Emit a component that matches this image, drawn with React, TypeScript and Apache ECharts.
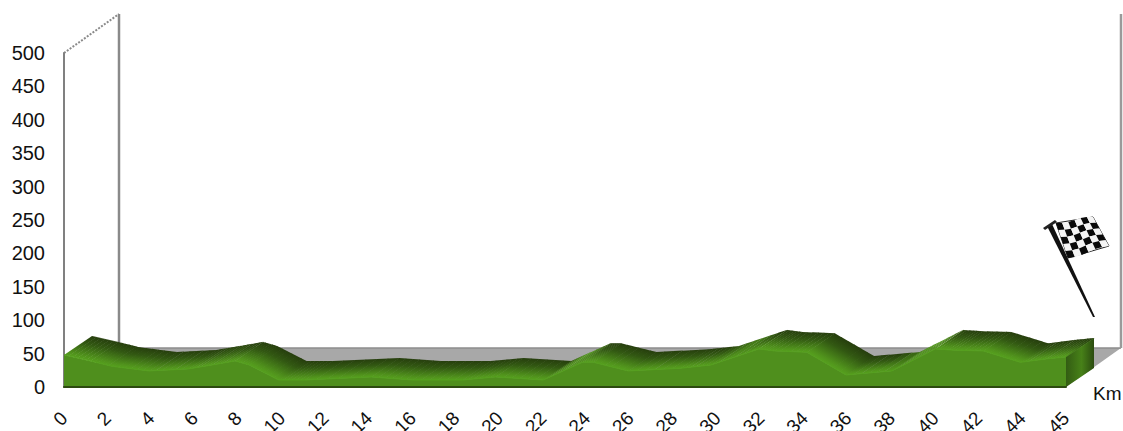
import React, { useEffect, useRef } from "react";
import * as echarts from "echarts";

// Axis position is in label slots of 2 units; the last label, 45, sits at slot position 46.
const axisLabels = ["0","2","4","6","8","10","12","14","16","18","20","22","24","26","28","30","32","34","36","38","40","42","44","45"];
const yTicks = [0, 50, 100, 150, 200, 250, 300, 350, 400, 450, 500];
const positions = [0,1.2,2.2,3.9,5.7,6.8,7.85,8.5,9.85,11.05,14.1,16,18.3,19.8,22,23.8,24.3,25.9,28.3,29.7,31.9,32.6,34.1,35.9,38,40,40.9,42.2,43.9,45.1,46];
const elevations = [48,39,31,24,27,33,39,33,10.5,10.5,15,10.5,10.5,15,10.5,37,37,24,28,33,57,54,52,18,24,57,55,54,37,42,45];

const RIDGE = { dx: 28, dy: -19 };
const FLOOR = { dx: 55, dy: -39 };
const SLICES = 6;

const mix = (a: number[], b: number[], t: number) => {
  const k = Math.max(0, Math.min(1, t));
  return `rgb(${a.map((v, i) => Math.round(v + (b[i] - v) * k)).join(",")})`;
};

const segments = positions.slice(0, -1).map((p, i) => [p, elevations[i], positions[i + 1], elevations[i + 1]]);
const slopes = segments.map((s) => ((s[3] - s[1]) * 0.668) / ((s[2] - s[0]) * 21.78));

function renderStage(_: any, api: any) {
  const a = api.coord([0, 0]);
  const b = api.coord([46, 0]);
  const t = api.coord([0, 500]);
  const gray = "#8a8a8a";
  return {
    type: "group",
    children: [
      { type: "polygon", shape: { points: [a, [a[0] + FLOOR.dx, a[1] + FLOOR.dy], [b[0] + FLOOR.dx, b[1] + FLOOR.dy], b] }, style: { fill: "#a8a8a8" } },
      { type: "line", shape: { x1: a[0] + FLOOR.dx, y1: a[1] + FLOOR.dy, x2: b[0] + FLOOR.dx, y2: b[1] + FLOOR.dy }, style: { stroke: "#8c8c8c", lineWidth: 1.5 } },
      { type: "line", shape: { x1: t[0] + FLOOR.dx, y1: t[1] + FLOOR.dy, x2: a[0] + FLOOR.dx, y2: a[1] + FLOOR.dy }, style: { stroke: gray, lineWidth: 2.5 } },
      { type: "line", shape: { x1: b[0] + FLOOR.dx, y1: t[1] + FLOOR.dy, x2: b[0] + FLOOR.dx, y2: b[1] + FLOOR.dy }, style: { stroke: "#9a9a9a", lineWidth: 2.5 } },
      { type: "line", shape: { x1: t[0], y1: t[1], x2: t[0] + FLOOR.dx, y2: t[1] + FLOOR.dy }, style: { stroke: "#8a8a8a", lineWidth: 2, lineDash: [2, 1.5] } },
    ],
  };
}

const DARK = [38, 62, 13];
const SHADE = [50, 88, 18];
const MID = [80, 146, 28];
const BRIGHT = [86, 160, 30];

function renderRidge(params: any, api: any) {
  const i = params.dataIndex;
  const p0 = api.coord([api.value(0), api.value(1)]);
  const p1 = api.coord([api.value(2), api.value(3)]);
  const prev = slopes[Math.max(0, i - 1)];
  const cur = slopes[i];
  const next = slopes[Math.min(slopes.length - 1, i + 1)];
  const ex = p1[0] - p0[0];
  const ey = p1[1] - p0[1];
  const len = Math.hypot(ex, ey);
  const nx = ey / len;
  const ny = -ex / len;
  const depth = RIDGE.dx * nx + RIDGE.dy * ny;
  const children: any[] = [];
  for (let k = 0; k < SLICES; k++) {
    const u0 = k / SLICES;
    const u1 = (k + 1) / SLICES;
    const lap = u1 + 0.6 / ex; // a little overlap along the edge hides hairline seams
    const a = [p0[0] + ex * u0, p0[1] + ey * u0];
    const b = [p0[0] + ex * lap, p0[1] + ey * lap];
    const um = (u0 + u1) / 2;
    // blend the slope with the neighbouring segments so that the shading has no seams
    const s = um < 0.5 ? (cur + prev) / 2 + (cur - prev) * um : (cur + next) / 2 + (cur - next) * (1 - um);
    const rise = (s - 0.15) / 0.25;
    children.push({
      type: "polygon",
      shape: { points: [a, b, [b[0] + RIDGE.dx, b[1] + RIDGE.dy], [a[0] + RIDGE.dx, a[1] + RIDGE.dy]] },
      style: {
        fill: new echarts.graphic.LinearGradient(a[0] + nx * depth, a[1] + ny * depth, a[0], a[1], [
          { offset: 0, color: mix(DARK, MID, rise) },
          { offset: 0.35, color: mix(SHADE, MID, rise) },
          { offset: 0.85, color: mix(MID, MID, 0) },
          { offset: 1, color: mix(BRIGHT, MID, rise) },
        ], true),
      },
    });
  }
  return { type: "group", children };
}

function renderSide(_: any, api: any) {
  const last = positions.length - 1;
  const p = api.coord([positions[last], elevations[last]]);
  const b = api.coord([positions[last], 0]);
  return {
    type: "polygon",
    shape: { points: [b, [b[0] + RIDGE.dx, b[1] + RIDGE.dy], [p[0] + RIDGE.dx, p[1] + RIDGE.dy], p] },
    style: {
      fill: new echarts.graphic.LinearGradient(b[0], 0, b[0] + RIDGE.dx, 0, [
        { offset: 0, color: "#335c13" },
        { offset: 0.55, color: "#478118" },
        { offset: 1, color: "#2b4c10" },
      ], true),
    },
  };
}

function flagGraphics() {
  const TL = [1056, 223], TR = [1093, 217], BR = [1109, 246], BL = [1068, 258];
  const at = (u: number, v: number) => {
    const x = (1 - v) * ((1 - u) * TL[0] + u * TR[0]) + v * ((1 - u) * BL[0] + u * BR[0]);
    const y = (1 - v) * ((1 - u) * TL[1] + u * TR[1]) + v * ((1 - u) * BL[1] + u * BR[1]);
    return [x, y + Math.sin(u * 6.28) * 1.2];
  };
  const cols = 6, rows = 5;
  const out: any[] = [];
  out.push({
    type: "polygon",
    shape: { points: [[1047, 226], [1052, 224], [1095, 317], [1093, 317]] },
    style: { fill: "#111" },
  });
  out.push({ type: "polygon", shape: { points: [[1043, 228], [1055, 220], [1057, 222], [1045, 230]] }, style: { fill: "#222" } });
  out.push({ type: "polygon", shape: { points: [TL, TR, BR, BL] }, style: { fill: "#fff", stroke: "#222", lineWidth: 1 } });
  for (let r = 0; r < rows; r++) {
    for (let c = 0; c < cols; c++) {
      out.push({
        type: "polygon",
        shape: { points: [at(c / cols, r / rows), at((c + 1) / cols, r / rows), at((c + 1) / cols, (r + 1) / rows), at(c / cols, (r + 1) / rows)] },
        style: { fill: (r + c) % 2 === 0 ? "#0a0a0a" : "#f4f4f4" },
      });
    }
  }
  return out;
}

export default function App() {
  const ref = useRef<HTMLDivElement>(null);
  useEffect(() => {
    const chart = echarts.init(ref.current!, null, { renderer: "svg" });
    chart.setOption({
      animation: false,
      backgroundColor: "#ffffff",
      textStyle: { fontFamily: "Liberation Sans" },
      grid: { left: 64, right: 57, top: 53, bottom: 44, containLabel: false, outerBoundsMode: "none" },
      xAxis: {
        type: "value", min: 0, max: 46, interval: 2, z: 10,
        axisLine: { show: true, onZero: false, lineStyle: { color: "#2d4a10", width: 2 } },
        axisTick: { show: false },
        splitLine: { show: false },
        axisLabel: {
          rotate: 45, margin: 28, fontSize: 19, color: "#111", hideOverlap: false, showMinLabel: true, showMaxLabel: true,
          formatter: (v: number) => axisLabels[Math.round(v / 2)],
        },
      },
      yAxis: {
        type: "value", min: 0, max: 500, interval: 50, z: 1,
        axisLine: { show: true, lineStyle: { color: "#808080", width: 2 } },
        axisTick: { show: false },
        splitLine: { show: false },
        axisLabel: { fontSize: 20, color: "#111", margin: 19, customValues: yTicks, padding: [3, 0, 0, 0] },
      },
      series: [
        { type: "custom", z: 1, silent: true, clip: false, renderItem: renderStage, data: [[0, 0]] },
        { type: "custom", z: 2, silent: true, clip: false, renderItem: renderRidge, data: segments, encode: { x: [0, 2], y: [1, 3] } },
        { type: "custom", z: 3, silent: true, clip: false, renderItem: renderSide, data: [[46, 0]] },
        {
          type: "line", z: 4, silent: true, showSymbol: false,
          data: positions.map((p, i) => [p, elevations[i]]),
          lineStyle: { color: "#55a01e", width: 1 },
          areaStyle: { color: "#4f8f1d", opacity: 1 },
        },
      ],
      graphic: [
        { type: "text", x: 1093, y: 384, style: { text: "Km", fontSize: 19, fill: "#111", fontFamily: "Liberation Sans" } },
        ...flagGraphics(),
      ],
    });
    return () => chart.dispose();
  }, []);
  return <div ref={ref} style={{ position: "fixed", left: 0, top: 0, width: 1123, height: 431 }} />;
}
